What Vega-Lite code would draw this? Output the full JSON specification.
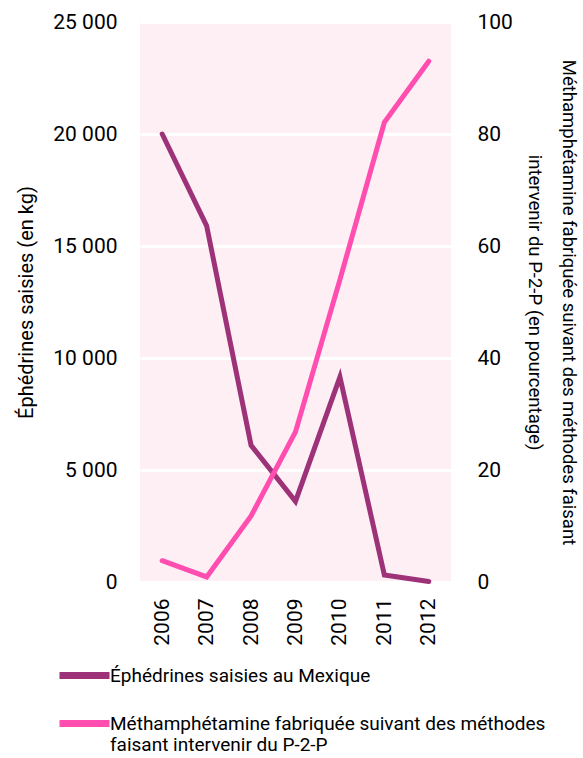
{
  "$schema": "https://vega.github.io/schema/vega-lite/v6.json",
  "width": 311,
  "height": 560,
  "autosize": {"type": "none"},
  "padding": {"left": 140, "top": 22, "right": 132, "bottom": 176},
  "config": {
    "font": "Roboto",
    "view": {"fill": "#fdeff4", "stroke": null},
    "axis": {"labelColor": "#000", "titleColor": "#000", "labelFontSize": 21, "titleFontSize": 20, "titleFontWeight": "normal", "domain": false, "ticks": false}
  },
  "data": {
    "values": [
      {"year": "2006", "series": "Éphédrines saisies au Mexique", "value": 20000},
      {"year": "2007", "series": "Éphédrines saisies au Mexique", "value": 15900},
      {"year": "2008", "series": "Éphédrines saisies au Mexique", "value": 6100},
      {"year": "2009", "series": "Éphédrines saisies au Mexique", "value": 3600},
      {"year": "2010", "series": "Éphédrines saisies au Mexique", "value": 9150},
      {"year": "2011", "series": "Éphédrines saisies au Mexique", "value": 310},
      {"year": "2012", "series": "Éphédrines saisies au Mexique", "value": 20},
      {"year": "2006", "series": "Méthamphétamine fabriquée suivant des méthodes faisant intervenir du P-2-P", "value": 3.8},
      {"year": "2007", "series": "Méthamphétamine fabriquée suivant des méthodes faisant intervenir du P-2-P", "value": 0.9},
      {"year": "2008", "series": "Méthamphétamine fabriquée suivant des méthodes faisant intervenir du P-2-P", "value": 11.8},
      {"year": "2009", "series": "Méthamphétamine fabriquée suivant des méthodes faisant intervenir du P-2-P", "value": 26.8},
      {"year": "2010", "series": "Méthamphétamine fabriquée suivant des méthodes faisant intervenir du P-2-P", "value": 54},
      {"year": "2011", "series": "Méthamphétamine fabriquée suivant des méthodes faisant intervenir du P-2-P", "value": 82.1},
      {"year": "2012", "series": "Méthamphétamine fabriquée suivant des méthodes faisant intervenir du P-2-P", "value": 93}
    ]
  },
  "encoding": {
    "x": {
      "field": "year",
      "type": "ordinal",
      "scale": {"type": "point", "padding": 0.5},
      "axis": {"title": null, "labelAngle": -90, "labelPadding": 16, "grid": false}
    },
    "color": {
      "field": "series",
      "type": "nominal",
      "scale": {
        "domain": ["Éphédrines saisies au Mexique", "Méthamphétamine fabriquée suivant des méthodes faisant intervenir du P-2-P"],
        "range": ["#9d3279", "#ff4db0"]
      },
      "legend": {
        "title": null,
        "orient": "none",
        "legendX": -84,
        "legendY": 625,
        "direction": "vertical",
        "symbolType": "stroke",
        "symbolSize": 2500,
        "symbolStrokeWidth": 7,
        "labelFontSize": 19,
        "labelColor": "#000",
        "labelOffset": -3,
        "labelLimit": 600,
        "rowPadding": 5,
        "labelExpr": "datum.label == 'Éphédrines saisies au Mexique' ? datum.label : ['Méthamphétamine fabriquée suivant des méthodes', 'faisant intervenir du P-2-P']"
      }
    }
  },
  "layer": [
    {
      "transform": [{"filter": "datum.series == 'Éphédrines saisies au Mexique'"}],
      "mark": {"type": "line", "strokeWidth": 5, "strokeCap": "round"},
      "encoding": {
        "y": {
          "field": "value",
          "type": "quantitative",
          "scale": {"domain": [0, 25000]},
          "axis": {
            "values": [0, 5000, 10000, 15000, 20000, 25000],
            "labelExpr": "replace(format(datum.value, ','), ',', ' ')",
            "title": "Éphédrines saisies (en kg)",
            "titlePadding": 16,
            "labelPadding": 23,
            "grid": true,
            "gridColor": "#ffffff",
            "gridWidth": 3
          }
        }
      }
    },
    {
      "transform": [{"filter": "datum.series != 'Éphédrines saisies au Mexique'"}],
      "mark": {"type": "line", "strokeWidth": 5, "strokeCap": "round"},
      "encoding": {
        "y": {
          "field": "value",
          "type": "quantitative",
          "scale": {"domain": [0, 100]},
          "axis": {
            "orient": "right",
            "values": [0, 20, 40, 60, 80, 100],
            "title": ["Méthamphétamine fabriquée suivant des méthodes faisant", "intervenir du  P-2-P (en pourcentage)"],
            "titleAngle": 90,
            "titleFontSize": 18.5,
            "titleLineHeight": 34,
            "titlePadding": 12,
            "labelPadding": 26,
            "grid": false
          }
        }
      }
    }
  ],
  "resolve": {"scale": {"y": "independent"}}
}
